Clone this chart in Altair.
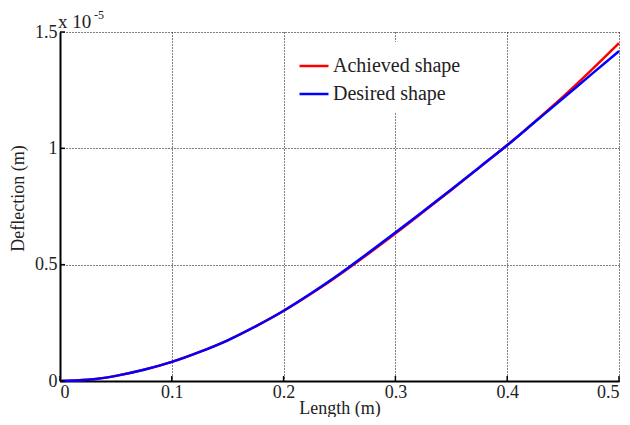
import altair as alt
import pandas as pd

length_m = [0, 0.025, 0.05, 0.075, 0.1, 0.125, 0.15, 0.175, 0.2, 0.225, 0.25,
            0.275, 0.3, 0.325, 0.35, 0.375, 0.4, 0.425, 0.45, 0.475, 0.5]
desired = [0, 0.005, 0.022, 0.048, 0.082, 0.125, 0.175, 0.235, 0.302, 0.378, 0.46,
           0.548, 0.638, 0.73, 0.823, 0.918, 1.013, 1.114, 1.215, 1.317, 1.418]
achieved = [0, 0.005, 0.022, 0.048, 0.082, 0.125, 0.175, 0.235, 0.301, 0.376, 0.457,
            0.544, 0.634, 0.727, 0.821, 0.917, 1.014, 1.116, 1.222, 1.335, 1.452]
series_names = ["Achieved shape", "Desired shape"]
series_colors = ["#ff0000", "#0000ff"]
x_ticks = [0, 0.1, 0.2, 0.3, 0.4, 0.5]
y_ticks = [0, 0.5, 1, 1.5]

rows = []
for x, a, d in zip(length_m, achieved, desired):
    rows.append({"x": x, "y": a, "s": series_names[0]})
    rows.append({"x": x, "y": d, "s": series_names[1]})
df = pd.DataFrame(rows)

FONT = "Liberation Serif"
W, H = 559, 349

xscale = alt.Scale(domain=[0, 0.5], nice=False, zero=False)
yscale = alt.Scale(domain=[0, 1.5], nice=False, zero=False)

lines = alt.Chart(df).mark_line(strokeWidth=2.5, interpolate="monotone").encode(
    x=alt.X("x:Q", scale=xscale, title="Length (m)",
            axis=alt.Axis(values=x_ticks, format="~g", grid=True, gridColor="black",
                          gridDash=[1, 2], gridOpacity=1, gridWidth=1,
                          domainColor="black", domainWidth=2, ticks=False,
                          labelFont=FONT, labelFontSize=18, labelColor="#222",
                          titleFont=FONT, titleFontSize=18, titleFontWeight="normal",
                          titleColor="#222", labelPadding=2, titlePadding=-2)),
    y=alt.Y("y:Q", scale=yscale, title="Deflection (m)",
            axis=alt.Axis(values=y_ticks, format="~g", grid=True, gridColor="black",
                          gridDash=[1, 2], gridOpacity=1, gridWidth=1,
                          domainColor="black", domainWidth=2, ticks=False,
                          labelFont=FONT, labelFontSize=18, labelColor="#222",
                          titleFont=FONT, titleFontSize=18, titleFontWeight="normal",
                          titleColor="#222", labelPadding=3,
                          titleX=-42, titleY=166, titleBaseline="middle")),
    color=alt.Color("s:N", scale=alt.Scale(domain=series_names, range=series_colors),
                    legend=alt.Legend(title=None, orient="none", legendX=230, legendY=10,
                                      fillColor="white", padding=8, symbolType="stroke",
                                      symbolStrokeWidth=2.5, symbolSize=841,
                                      labelFont=FONT, labelFontSize=20, labelColor="#222",
                                      rowPadding=2, labelOffset=3)),
)

tick_df = pd.DataFrame({"x": x_ticks})
xticks_marks = alt.Chart(tick_df).mark_rule(color="black", strokeWidth=1.5).encode(
    x=alt.X("x:Q", scale=xscale), y=alt.value(H - 5), y2=alt.value(H))
ytick_df = pd.DataFrame({"y": y_ticks})
yticks_marks = alt.Chart(ytick_df).mark_rule(color="black", strokeWidth=1.5).encode(
    y=alt.Y("y:Q", scale=yscale), x=alt.value(0), x2=alt.value(5))

exp_base = alt.Chart(pd.DataFrame({"t": ["x 10"]})).mark_text(
    font=FONT, fontSize=19, align="left", baseline="alphabetic", color="#222").encode(
    text="t:N", x=alt.value(-2), y=alt.value(-4))
exp_sup = alt.Chart(pd.DataFrame({"t": ["-5"]})).mark_text(
    font=FONT, fontSize=12, align="left", baseline="alphabetic", color="#222").encode(
    text="t:N", x=alt.value(34), y=alt.value(-13))

chart = alt.layer(lines, xticks_marks, yticks_marks, exp_base, exp_sup).properties(
    width=W, height=H, autosize="none",
    padding={"left": 52, "top": 24, "right": 3, "bottom": 36},
).configure_view(stroke=None)

chart.save("out.html", embed_options={"renderer": "svg", "actions": False})
